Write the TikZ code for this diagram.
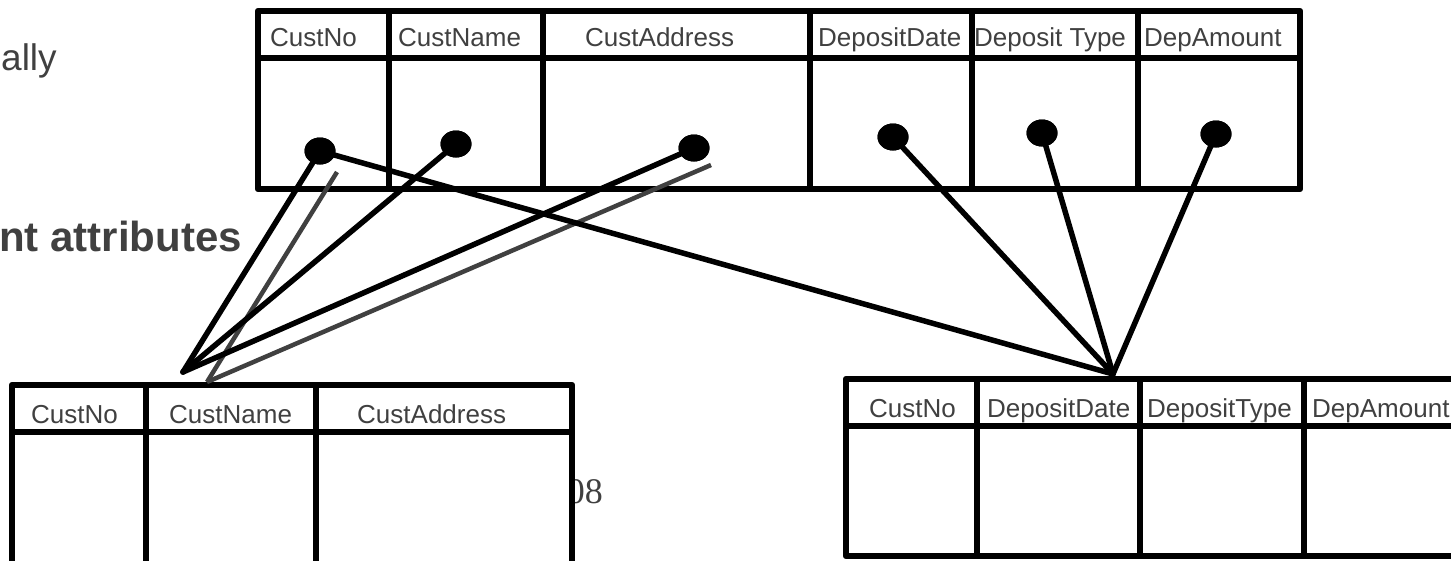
\documentclass[tikz,border=0pt]{standalone}
\usepackage{fontspec}
\setmainfont{Liberation Sans}
\newfontfamily\serifface{Liberation Serif}
\usetikzlibrary{shapes.geometric}
\definecolor{ink}{HTML}{404040}

\begin{document}
\begin{tikzpicture}[x=1pt,y=-1pt,line join=round,
  frame/.style={line width=6.5pt,draw=black,fill=white},
  rule/.style={line width=6pt,draw=black},
  hdr/.style={anchor=base west,inner sep=0pt,text=ink,font=\fontsize{26}{30}\selectfont},
  link/.style={line width=5.5pt,draw=black,line cap=round},
  shade/.style={line width=4.5pt,draw=ink},
  dotmark/.style={ellipse,fill=black,minimum width=31pt,minimum height=27pt,inner sep=0pt}]

\useasboundingbox (0,0) rectangle (1451,560);

% slide text around the tables
\node[anchor=base west,inner sep=0pt,text=ink,font=\fontsize{37}{40}\selectfont] (ally) at (1,70) {ally};
\node[anchor=base east,inner sep=0pt,text=ink,font=\bfseries\fontsize{42}{46}\selectfont] (attr) at (242,251) {nt attributes};
\node[anchor=base east,inner sep=0pt,text=ink,font=\serifface\fontsize{36}{40}\selectfont] (year) at (603,503) {08};

% unnormalised table
\draw[frame] (258,11) rectangle (1300,189);
\draw[rule] (258,58) -- (1300,58);
\foreach \x in {389,543,810,972,1138} \draw[rule] (\x,11) -- (\x,189);
\node[hdr] (t1) at (270,46) {CustNo};
\node[hdr] (t2) at (398,46) {CustName};
\node[hdr] (t3) at (585,46) {CustAddress};
\node[hdr] (t4) at (818,46) {DepositDate};
\node[hdr] (t5) at (974,46) {Deposit Type};
\node[hdr] (t6) at (1144,46) {DepAmount};

% customer table
\draw[frame] (12,385) rectangle (572,566);
\draw[rule] (12,432) -- (572,432);
\foreach \x in {146,316} \draw[rule] (\x,385) -- (\x,566);
\node[hdr] (c1) at (31,423) {CustNo};
\node[hdr] (c2) at (169,423) {CustName};
\node[hdr] (c3) at (357,423) {CustAddress};

% deposit table
\draw[frame] (846,379) rectangle (1462,556);
\draw[rule] (846,426) -- (1462,426);
\foreach \x in {977,1140,1304} \draw[rule] (\x,379) -- (\x,556);
\node[hdr] (d1) at (869,417) {CustNo};
\node[hdr] (d2) at (987,417) {DepositDate};
\node[hdr] (d3) at (1147,417) {DepositType};
\node[hdr] (d4) at (1312,417) {DepAmount};

% attribute dots
\node[dotmark] (pNo)   at (320,151) {};
\node[dotmark] (pName) at (456,144) {};
\node[dotmark] (pAddr) at (694,148) {};
\node[dotmark] (pDate) at (893,137) {};
\node[dotmark] (pType) at (1042,133) {};
\node[dotmark] (pAmt)  at (1216,134) {};

% meeting points of the connectors
\coordinate (custHub) at (183,372);
\coordinate (depHub) at (1113,374);
\coordinate (gA) at (337,172);
\coordinate (gB) at (711,165);
\coordinate (gHub) at (207,382);

% grey guide lines
\draw[shade] (gA) -- (gHub);
\draw[shade] (gB) -- (gHub);

% black connectors
\draw[link] (pNo.center) -- (custHub);
\draw[link] (pName.center) -- (custHub);
\draw[link] (pAddr.center) -- (custHub);
\draw[link] (pNo.center) -- (depHub);
\draw[link] (pDate.center) -- (depHub);
\draw[link] (pType.center) -- (depHub);
\draw[link] (pAmt.center) -- (depHub);

% redraw dots above the connectors
\foreach \p in {pNo,pName,pAddr,pDate,pType,pAmt}
  \fill[black] (\p.center) ellipse [x radius=15.5pt,y radius=13.5pt];
\end{tikzpicture}
\end{document}
